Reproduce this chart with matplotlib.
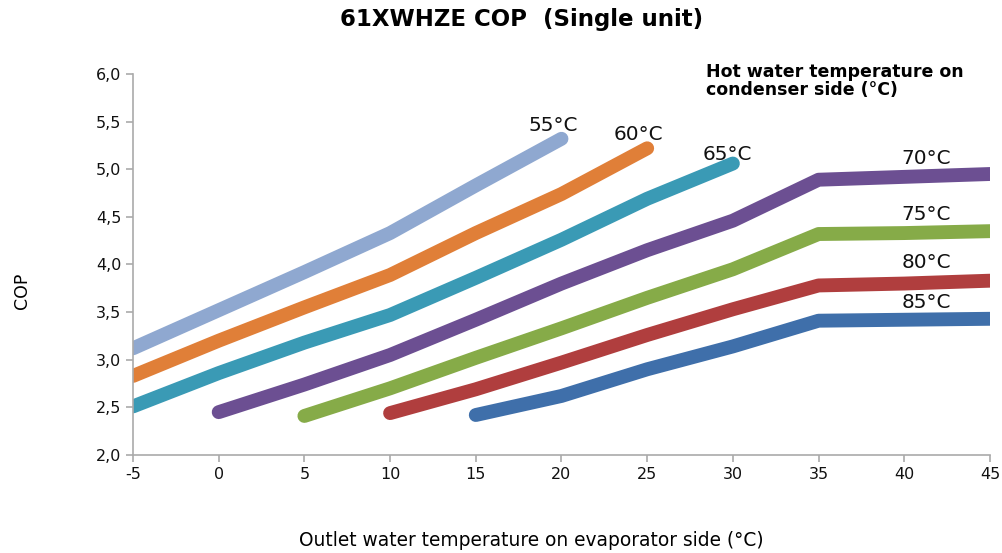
import numpy as np
import matplotlib.pyplot as plt

# outlet water temperature on evaporator side
x_all = [-5, 0, 5, 10, 15, 20, 25, 30, 35, 40, 45]

labels = ['55°C', '60°C', '65°C', '70°C', '75°C', '80°C', '85°C']
x_55 = [-5, 0, 5, 10, 15, 20]
cop_55 = [3.12, 3.52, 3.92, 4.33, 4.83, 5.32]
x_60 = [-5, 0, 5, 10, 15, 20, 25]
cop_60 = [2.83, 3.20, 3.55, 3.89, 4.33, 4.74, 5.22]
x_65 = [-5, 0, 5, 10, 15, 20, 25, 30]
cop_65 = [2.51, 2.86, 3.18, 3.47, 3.86, 4.26, 4.69, 5.06]
x_70 = [0, 5, 10, 15, 20, 25, 30, 35, 40, 45]
cop_70 = [2.45, 2.74, 3.05, 3.42, 3.80, 4.15, 4.46, 4.89, 4.92, 4.95]
x_75 = [5, 10, 15, 20, 25, 30, 35, 40, 45]
cop_75 = [2.41, 2.70, 3.02, 3.33, 3.65, 3.95, 4.32, 4.33, 4.35]
x_80 = [10, 15, 20, 25, 30, 35, 40, 45]
cop_80 = [2.44, 2.69, 2.97, 3.26, 3.53, 3.78, 3.80, 3.83]
x_85 = [15, 20, 25, 30, 35, 40, 45]
cop_85 = [2.42, 2.62, 2.90, 3.14, 3.41, 3.42, 3.43]

colors = ['#8fa8d0', '#e07f38', '#3a9ab5', '#6c4f92', '#86ab48', '#b03e3e', '#3f6faa']

# where the curve names sit (data coords)
label_pos = [(19.5, 5.46), (24.5, 5.36), (29.7, 5.16),
             (41.3, 5.11), (41.3, 4.52), (41.3, 4.02), (41.3, 3.6)]

xs = [x_55, x_60, x_65, x_70, x_75, x_80, x_85]
ys = [cop_55, cop_60, cop_65, cop_70, cop_75, cop_80, cop_85]

fig = plt.figure(figsize=(10.03, 5.53), dpi=100)
ax = fig.add_axes([0.1326, 0.1772, 0.8544, 0.689])

for x, y, c in zip(xs, ys, colors):
    ax.plot(x, y, color=c, lw=10, solid_capstyle='round', solid_joinstyle='round')

for lab, (lx, ly) in zip(labels, label_pos):
    ax.text(lx, ly, lab, fontsize=14.4, ha='center', va='center', color='#111111')

ax.set_xlim(-5, 45)
ax.set_ylim(2.0, 6.0)
ax.set_xticks(x_all)
ax.set_xticklabels([str(v) for v in x_all])
yt = np.arange(2.0, 6.01, 0.5)
ax.set_yticks(yt)
ax.set_yticklabels([('%.1f' % v).replace('.', ',') for v in yt])

for s in ['top', 'right']:
    ax.spines[s].set_visible(False)
for s in ['left', 'bottom']:
    ax.spines[s].set_color('#aaaaaa')
    ax.spines[s].set_linewidth(1.2)
ax.tick_params(colors='#aaaaaa', labelcolor='#111111', labelsize=11.5, length=5, width=1.2)

fig.text(0.52, 0.964, '61XWHZE COP  (Single unit)', ha='center', va='center',
         fontsize=16.5, fontweight='bold')
fig.text(0.704, 0.853, 'Hot water temperature on\ncondenser side (°C)', ha='left', va='center',
         fontsize=12.5, fontweight='bold', linespacing=1.0)
fig.text(0.022, 0.475, 'COP', rotation=90, ha='center', va='center', fontsize=12.5)
fig.text(0.53, 0.022, 'Outlet water temperature on evaporator side (°C)', ha='center',
         va='center', fontsize=13.4)

fig.savefig('out.png', dpi=100)
